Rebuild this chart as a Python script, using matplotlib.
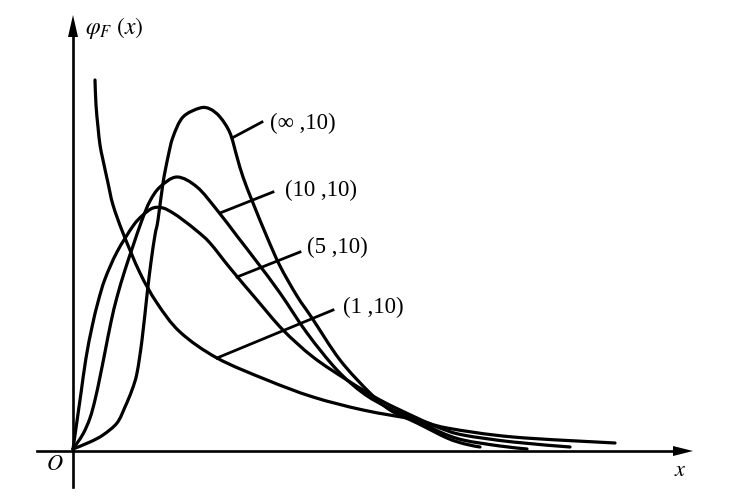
import matplotlib
matplotlib.use("Agg")
import matplotlib.pyplot as plt
import numpy as np
from matplotlib.path import Path
from matplotlib.patches import PathPatch

plt.rcParams['mathtext.fontset'] = 'stix'
plt.rcParams['font.family'] = ['Liberation Serif', 'DejaVu Serif']

# ---- curve data ----
inf_x = [0, .17, .30, .44, .52, .59, .64, .69, .74, .78, .82, .85, .90, .95, 1.00, 1.10, 1.27, 1.37,
         1.47, 1.57, 1.64, 1.70, 1.80, 1.94, 2.07, 2.24, 2.39, 2.67, 2.97, 3.17, 3.44, 3.74, 3.92, 4.07]
inf_y = [.01, .08, .15, .27, .43, .60, .77, 1.10, 1.55, 1.88, 2.15, 2.30, 2.67, 2.93, 3.13, 3.33, 3.42, 3.41,
         3.33, 3.17, 2.93, 2.73, 2.47, 2.13, 1.84, 1.54, 1.32, .90, .57, .40, .27, .12, .06, .03]

f10_x = [0, .10, .17, .22, .27, .32, .38, .44, .52, .60, .69, .77, .87, 1.04, 1.24, 1.44, 1.64, 1.84,
         2.07, 2.34, 2.64, 2.90, 3.14, 3.44, 3.67, 3.90, 4.27, 4.54]
f10_y = [.01, .16, .32, .50, .73, .98, 1.28, 1.53, 1.80, 2.04, 2.30, 2.49, 2.63, 2.73, 2.63, 2.40, 2.14, 1.88,
         1.57, 1.17, .80, .57, .43, .30, .18, .10, .04, .01]

f5_x = [0, .04, .08, .13, .19, .25, .32, .44, .60, .70, .80, .90, 1.00, 1.10, 1.24, 1.37, 1.57, 1.84,
        2.10, 2.40, 2.74, 3.07, 3.44, 3.67, 3.90, 4.40, 4.97]
f5_y = [.01, .29, .57, .92, 1.23, 1.48, 1.71, 1.98, 2.24, 2.35, 2.42, 2.42, 2.37, 2.30, 2.19, 2.07, 1.82, 1.50,
        1.20, .93, .70, .50, .32, .22, .15, .08, .03]

f1_x = [.22, .23, .25, .27, .30, .35, .40, .50, .67, .84, 1.07, 1.44, 1.94, 2.40, 2.90, 3.44, 3.74, 4.40, 5.42]
f1_y = [3.70, 3.45, 3.23, 3.05, 2.90, 2.67, 2.45, 2.17, 1.77, 1.47, 1.18, .92, .70, .53, .40, .30, .22, .13, .07]

labels = ['(∞ ,10)', '(10 ,10)', '(5 ,10)', '(1 ,10)']
leader_start = [(1.59, 3.12), (1.47, 2.37), (1.64, 1.73), (1.44, 0.92)]
leader_end = [(1.89, 3.28), (2.00, 2.58), (2.27, 1.98), (2.60, 1.40)]
label_pos = [(1.97, 3.27), (2.12, 2.60), (2.34, 2.03), (2.70, 1.43)]


def smooth_path(xs, ys):
    pts = np.column_stack([xs, ys]).astype(float)
    verts = [pts[0]]
    codes = [Path.MOVETO]
    n = len(pts)
    for i in range(n - 1):
        p0 = pts[i - 1] if i > 0 else pts[i]
        p1 = pts[i]
        p2 = pts[i + 1]
        p3 = pts[i + 2] if i + 2 < n else pts[i + 1]
        c1 = p1 + (p2 - p0) / 6.0
        c2 = p2 - (p3 - p1) / 6.0
        verts += [c1, c2, p2]
        codes += [Path.CURVE4] * 3
    return Path(verts, codes)


fig = plt.figure(figsize=(7.34, 5.01), dpi=100)
ax = fig.add_axes([0, 0, 1, 1])
ax.set_xlim(-0.73, 6.61)
ax.set_ylim(-0.51, 4.50)
ax.axis('off')

lw = 2.3
for xs, ys in [(inf_x, inf_y), (f10_x, f10_y), (f5_x, f5_y), (f1_x, f1_y)]:
    patch = PathPatch(smooth_path(xs, ys), fill=False, edgecolor='black', lw=lw,
                      capstyle='round', joinstyle='round')
    ax.add_patch(patch)

for (x0, y0), (x1, y1), (tx, ty), lab in zip(leader_start, leader_end, label_pos, labels):
    ax.plot([x0, x1], [y0, y1], color='black', lw=2.0)
    ax.text(tx, ty, lab, fontsize=16.5, ha='left', va='center', color='black')

# axes with arrows
ax.plot([0, 0], [-0.37, 4.15], color='black', lw=1.9)
ax.fill([-0.05, 0.05, 0.0], [4.13, 4.13, 4.35], color='black', lw=0)
ax.plot([-0.36, 6.02], [-0.01, -0.01], color='black', lw=1.9)
ax.fill([6.00, 6.00, 6.20], [-0.06, 0.04, -0.01], color='black', lw=0)

ax.text(0.12, 4.22, r'$\varphi_F\ (x)$', fontsize=17, ha='left', va='center')
ax.text(-0.18, -0.15, r'$O$', fontsize=16, ha='center', va='center')
ax.text(6.07, -0.21, r'$x$', fontsize=16, ha='center', va='center')

fig.savefig('out.png', dpi=100)
